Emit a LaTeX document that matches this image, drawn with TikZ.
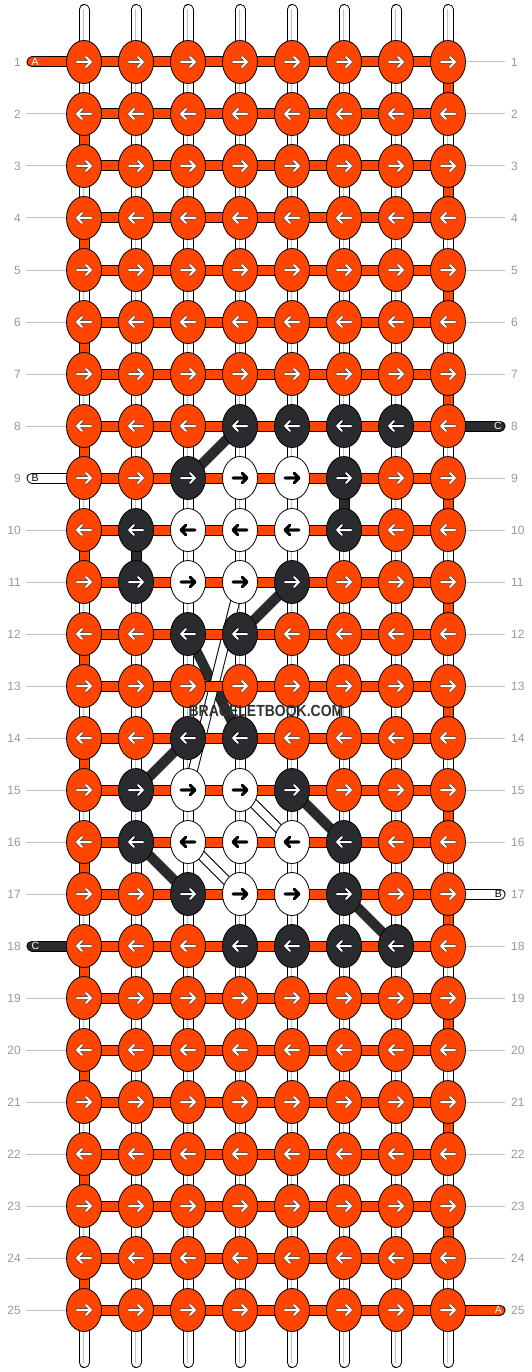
\documentclass[tikz,border=0pt]{standalone}
\usepackage{fontspec}
\setmainfont{Liberation Sans}
\usetikzlibrary{shapes.geometric}
\definecolor{org}{HTML}{FF4500}
\definecolor{drk}{HTML}{2A2B2F}
\definecolor{lbl}{HTML}{999999}
\definecolor{gln}{HTML}{C0C0C0}
\definecolor{wm}{HTML}{333333}
\tikzset{
  knot/.style={ellipse, draw=black, line width=0.8pt, minimum width=35pt, minimum height=43pt, inner sep=0pt},
  knotO/.style={knot, fill=org},
  knotD/.style={knot, fill=drk},
  knotW/.style={knot, fill=white},
  uO/.style={draw=black!70, line width=3.2pt},
  uD/.style={draw=black, line width=3.2pt},
  uW/.style={draw=black, line width=2.6pt},
  tO/.style={draw=white, line width=2pt},
  tD/.style={draw=white, line width=2pt},
  tW/.style={draw=black, line width=2.6pt},
  arrowpath/.style={line cap=round, line join=round},
  outl/.style={line width=11pt, black},
  outlr/.style={line width=11pt, black, line cap=round},
  bandwhite/.style={line width=10pt, black},
  banddark/.style={line width=10pt, drk},
  rowline/.style={gln, line width=1pt},
  rownum/.style={text=lbl, font=\fontsize{12pt}{12pt}\selectfont, inner sep=0pt},
  tailtext/.style={font=\fontsize{10.5pt}{10.5pt}\selectfont, inner sep=0pt},
  wmtext/.style={font=\fontsize{14pt}{14pt}\selectfont\bfseries, inner sep=0pt, yscale=1.15}
}
\begin{document}
\begin{tikzpicture}[x=1pt,y=-1pt]
\useasboundingbox (0,0) rectangle (532,1372);
\fill[white] (0,0) rectangle (532,1372);
% coordinates
\foreach \c in {1,...,8}{
  \pgfmathsetmacro\X{32+52*\c}
  \coordinate (t\c) at (\X,9.5);
  \coordinate (b\c) at (\X,1362.5);
  \foreach \r in {1,...,25}{
    \coordinate (p\c-\r) at (\X,{10+52*\r});
  }
}
\foreach \r in {1,...,25}{
  \coordinate (L\r) at (32,{10+52*\r});
  \coordinate (R\r) at (500,{10+52*\r});
  \coordinate (gl\r) at (26,{10+52*\r});
  \coordinate (gr\r) at (505,{10+52*\r});
}
% vertical strands
\foreach \c in {1,...,8}{
  \draw[outlr] (t\c) -- (b\c);
  \draw[line width=9pt, white, line cap=round] (t\c) -- (b\c);
  \draw[gln, line width=1pt] ([xshift=-0.7pt]t\c) -- ([xshift=-0.7pt]b\c);
}
% coloured vertical segments
\foreach \r [evaluate=\r as \n using int(\r+1)] in {2,4,...,24}{
  \draw[outl] (p1-\r) -- (p1-\n);
  \draw[line width=9pt, org] (p1-\r) -- (p1-\n);
}
\foreach \r [evaluate=\r as \n using int(\r+1)] in {1,3,...,23}{
  \draw[outl] (p8-\r) -- (p8-\n);
  \draw[line width=9pt, org] (p8-\r) -- (p8-\n);
}
\foreach \a/\b in {2-10/2-11, 6-9/6-10}{
  \draw[outl] (p\a) -- (p\b);
  \draw[line width=9pt, drk] (p\a) -- (p\b);
}
% diagonal bands
\foreach \a/\b in {4-8/3-9, 5-11/4-12, 3-12/4-14, 3-14/2-15, 2-16/3-17, 5-15/6-16, 6-17/7-18}{
  \draw[banddark] (p\a) -- (p\b);
}
\foreach \a/\b in {4-11/3-15, 4-15/5-16, 3-16/4-17}{
  \draw[bandwhite] (p\a) -- (p\b);
  \draw[line width=8pt, white] (p\a) -- (p\b);
}
% horizontal bars
\foreach \r in {1,...,25}{
  \draw[outl] (p1-\r) -- (p8-\r);
  \draw[line width=9pt, org] (p1-\r) -- (p8-\r);
}
% tails
\foreach \r/\col/\t/\tc in {1/org/A/white, 9/white/B/black, 18/drk/C/white}{
  \draw[outlr] (L\r) -- (p1-\r);
  \draw[line width=9pt, \col, line cap=round] (L\r) -- (p1-\r);
  \node[tailtext, text=\tc, anchor=west] (tl\r) at ([xshift=-0.5pt]L\r) {\t};
}
\foreach \r/\col/\t/\tc in {8/drk/C/white, 17/white/B/black, 25/org/A/white}{
  \draw[outlr] (p8-\r) -- (R\r);
  \draw[line width=9pt, \col, line cap=round] (p8-\r) -- (R\r);
  \node[tailtext, text=\tc, anchor=east] (tr\r) at ([xshift=2pt]R\r) {\t};
}
% grey row lines
\foreach \r in {2,...,8,10,11,...,17,19,20,...,25}{
  \draw[rowline] (gl\r) -- (p1-\r);
}
\foreach \r in {1,...,7,9,10,...,16,18,19,...,24}{
  \draw[rowline] (p8-\r) -- (gr\r);
}
% row numbers
\foreach \r in {1,...,25}{
  \node[rownum, anchor=east] (nl\r) at (21,{10+52*\r}) {\r};
  \node[rownum, anchor=west] (nr\r) at (511,{10+52*\r}) {\r};
}
% knots
\foreach \r/\cl in {
  1/{O,O,O,O,O,O,O,O}, 2/{O,O,O,O,O,O,O,O}, 3/{O,O,O,O,O,O,O,O},
  4/{O,O,O,O,O,O,O,O}, 5/{O,O,O,O,O,O,O,O}, 6/{O,O,O,O,O,O,O,O},
  7/{O,O,O,O,O,O,O,O}, 8/{O,O,O,D,D,D,D,O}, 9/{O,O,D,W,W,D,O,O},
  10/{O,D,W,W,W,D,O,O}, 11/{O,D,W,W,D,O,O,O}, 12/{O,O,D,D,O,O,O,O},
  13/{O,O,O,O,O,O,O,O}, 14/{O,O,D,D,O,O,O,O}, 15/{O,D,W,W,D,O,O,O},
  16/{O,D,W,W,W,D,O,O}, 17/{O,O,D,W,W,D,O,O}, 18/{O,O,O,D,D,D,D,O},
  19/{O,O,O,O,O,O,O,O}, 20/{O,O,O,O,O,O,O,O}, 21/{O,O,O,O,O,O,O,O},
  22/{O,O,O,O,O,O,O,O}, 23/{O,O,O,O,O,O,O,O}, 24/{O,O,O,O,O,O,O,O},
  25/{O,O,O,O,O,O,O,O}}{
  \foreach \k [count=\c] in \cl {
    \node[knot\k] (k\c-\r) at (p\c-\r) {};
    \pgfmathsetmacro\X{32+52*\c}
    \pgfmathsetmacro\Y{10+52*\r}
    \pgfmathsetmacro\d{ifthenelse(mod(\r,2)==1,1,-1)}
    \draw[arrowpath, u\k] ({\X-7*\d},\Y) -- ({\X+7*\d},\Y) ({\X+2*\d},{\Y-5}) -- ({\X+7*\d},\Y) -- ({\X+2*\d},{\Y+5});
    \draw[arrowpath, t\k] ({\X-7*\d},\Y) -- ({\X+7*\d},\Y) ({\X+2*\d},{\Y-5}) -- ({\X+7*\d},\Y) -- ({\X+2*\d},{\Y+5});
  }
}
% watermark
\node[wmtext, text=wm] (wmark) at (266,711) {BRACELETBOOK.COM};
\end{tikzpicture}
\end{document}
